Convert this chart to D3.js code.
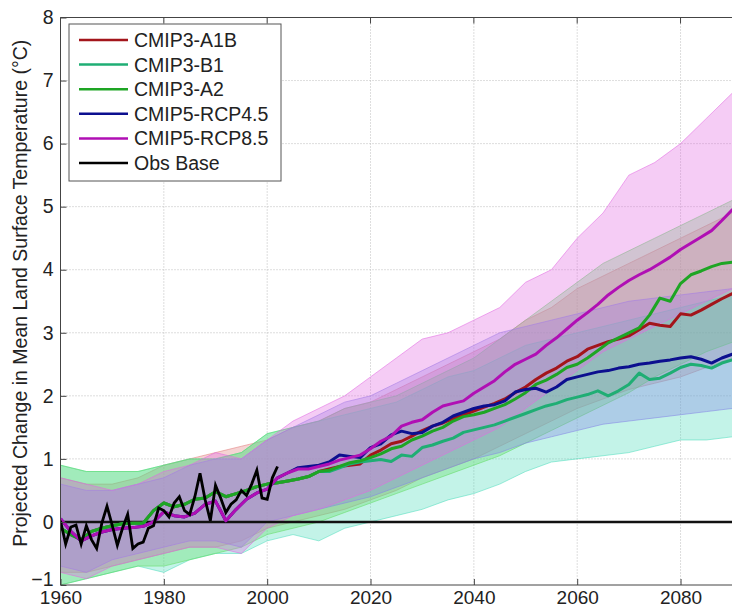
<!DOCTYPE html>
<html>
<head>
<meta charset="utf-8">
<script src="https://cdn.jsdelivr.net/npm/d3@7"></script>
<style>
  body { margin: 0; background: #fff; }
  svg { display: block; overflow: hidden; }
  text { font-family: "Liberation Sans", Arial, sans-serif; fill: #222; }
</style>
</head>
<body>
<svg id="chart" width="732" height="613"></svg>
<script>
// years for the model means (every 2 years)
const years = [1960,1962,1964,1966,1968,1970,1972,1974,1976,1978,1980,1982,1984,1986,1988,1990,1992,1994,1996,1998,
  2000,2002,2004,2006,2008,2010,2012,2014,2016,2018,2020,2022,2024,2026,2028,2030,2032,2034,2036,2038,
  2040,2042,2044,2046,2048,2050,2052,2054,2056,2058,2060,2062,2064,2066,2068,2070,2072,2074,2076,2078,
  2080,2082,2084,2086,2088,2090,2092];

// CMIP3 20th century part (1960-2010), shared by the three SRES runs
const cmip3Hist = [-0.1,-0.2,-0.28,-0.15,-0.1,-0.06,-0.03,-0.02,-0.02,0.18,0.3,0.24,0.28,0.36,0.38,0.48,0.4,0.45,0.5,0.56,
  0.6,0.62,0.65,0.68,0.72,0.8];
const a1bFuture = [0.84,0.88,0.9,0.92,1.06,1.14,1.24,1.28,1.36,1.45, 1.52,1.57,1.64,1.7,1.76, 1.82,1.88,1.95,2.05,2.14,
  2.26,2.36,2.44,2.55,2.62, 2.74,2.8,2.86,2.9,2.95, 3.05,3.15,3.12,3.1,3.3, 3.28,3.36,3.45,3.54,3.62, 3.66];
const b1Future = [0.8,0.86,0.92,0.95,0.97,0.99,0.96,1.06,1.04,1.18, 1.22,1.28,1.33,1.42,1.46, 1.5,1.54,1.6,1.66,1.72,
  1.78,1.84,1.88,1.94,1.98, 2.02,2.08,2.0,2.08,2.18, 2.36,2.26,2.28,2.36,2.45, 2.5,2.48,2.44,2.52,2.57, 2.6];
const a2Future = [0.82,0.88,0.94,0.97,1.02,1.08,1.16,1.2,1.3,1.36, 1.44,1.5,1.6,1.67,1.7, 1.74,1.8,1.86,1.95,2.05,
  2.18,2.25,2.34,2.45,2.5, 2.6,2.72,2.84,2.92,3.0, 3.08,3.28,3.55,3.5,3.78, 3.92,3.98,4.05,4.1,4.12, 4.14];

// CMIP5 historical part (1960-2004), then RCPs (2006-2092)
const cmip5Hist = [0.05,-0.15,-0.3,-0.22,-0.16,-0.12,-0.1,-0.09,-0.07,0.0, 0.16,0.1,0.08,0.14,0.28,0.33,0.02,0.2,0.36,0.46,
  0.52,0.7,0.78];
const rcp45Future = [0.86,0.88,0.9,0.95,1.06,1.04,1.02,1.18, 1.24,1.38,1.44,1.4,1.42, 1.52,1.58,1.68,1.74,1.8,
  1.84,1.86,1.92,2.06,2.1, 2.12,2.06,2.14,2.26,2.3, 2.34,2.38,2.4,2.44,2.46, 2.5,2.52,2.55,2.57,2.6,
  2.62,2.58,2.52,2.6,2.66, 2.68];
const rcp85Future = [0.84,0.84,0.88,0.92,0.98,1.02,1.06,1.16, 1.28,1.36,1.52,1.58,1.62, 1.74,1.84,1.88,1.92,2.04,
  2.14,2.24,2.38,2.5,2.58, 2.66,2.8,2.92,3.06,3.2, 3.32,3.45,3.6,3.72,3.83, 3.92,4.0,4.1,4.2,4.32,
  4.42,4.52,4.62,4.78,4.95, 5.05];

// observed annual anomalies 1960-2002
const obsYears = [1960,1961,1962,1963,1964,1965,1966,1967,1968,1969,1970,1971,1972,1973,1974,1975,1976,1977,1978,1979,
  1980,1981,1982,1983,1984,1985,1986,1987,1988,1989,1990,1991,1992,1993,1994,1995,1996,1997,1998,1999,2000,2001,2002];
const obsValues = [0.02,-0.35,-0.08,-0.05,-0.35,-0.06,-0.28,-0.42,-0.02,0.25, -0.05,-0.37,-0.1,0.12,-0.42,-0.35,-0.32,-0.1,-0.06,0.22,
  0.18,0.08,0.3,0.4,0.18,0.12,0.4,0.77,0.35,0.02, 0.58,0.38,0.15,0.28,0.35,0.5,0.42,0.6,0.82,0.38, 0.36,0.7,0.88];

// ensemble spread (lowest / highest member), every 5 years
const bandYears = [1960,1965,1970,1975,1980,1985,1990,1995,2000,2005,2010,2015,2020,2025,2030,2035,2040,2045,2050,2055,
  2060,2065,2070,2075,2080,2085,2090,2095];
const a1bLow = [-0.8,-0.8,-0.7,-0.6,-0.5,-0.4,-0.4,-0.3,-0.1,0.0,0.1,0.2,0.35,0.5,0.7,0.85,1.0,1.2,1.4,1.6,1.8,1.95,2.1,2.2,2.3,2.45,2.6,2.7];
const a1bHigh = [0.7,0.6,0.6,0.7,0.9,1.0,1.1,1.2,1.3,1.5,1.6,1.8,1.9,2.1,2.3,2.5,2.7,2.9,3.2,3.4,3.7,3.9,4.1,4.3,4.5,4.7,4.9,5.0];
const b1Low = [-1.0,-0.9,-0.8,-0.7,-0.8,-0.6,-0.5,-0.5,-0.3,-0.2,-0.3,-0.1,0.0,0.1,0.2,0.35,0.45,0.6,0.8,0.95,1.0,1.05,1.1,1.2,1.3,1.3,1.35,1.4];
const b1High = [0.9,0.8,0.8,0.8,0.9,1.0,1.0,1.1,1.4,1.5,1.6,1.7,1.8,1.9,2.1,2.3,2.4,2.6,2.8,2.9,3.0,3.1,3.2,3.3,3.4,3.5,3.6,3.6];
const a2Low = [-1.0,-0.9,-0.8,-0.7,-0.7,-0.6,-0.5,-0.4,-0.2,-0.1,0.0,0.15,0.3,0.45,0.6,0.75,0.9,1.05,1.25,1.45,1.65,1.85,2.05,2.3,2.5,2.7,2.85,3.0];
const a2High = [0.9,0.8,0.8,0.8,0.9,1.0,1.0,1.1,1.4,1.5,1.6,1.8,1.9,2.0,2.2,2.4,2.6,2.9,3.2,3.5,3.8,4.1,4.3,4.5,4.7,4.9,5.1,5.2];
const rcp45Low = [-0.7,-0.8,-0.6,-0.5,-0.4,-0.3,-0.3,-0.4,0.0,0.1,0.2,0.3,0.4,0.55,0.7,0.85,1.0,1.1,1.25,1.35,1.45,1.55,1.6,1.65,1.7,1.75,1.8,1.8];
const rcp45High = [0.6,0.5,0.5,0.6,0.7,0.9,1.0,1.0,1.3,1.5,1.7,1.9,2.0,2.2,2.4,2.6,2.8,3.0,3.1,3.2,3.3,3.4,3.5,3.55,3.6,3.65,3.7,3.7];
const rcp85Low = [-0.8,-0.9,-0.7,-0.6,-0.5,-0.4,-0.4,-0.5,-0.1,0.1,0.2,0.35,0.5,0.7,0.9,1.1,1.3,1.5,1.8,2.1,2.4,2.7,2.9,3.1,3.3,3.5,3.7,3.8];
const rcp85High = [0.7,0.6,0.5,0.6,0.8,0.9,1.1,1.0,1.3,1.6,1.8,2.0,2.3,2.6,2.9,3.0,3.2,3.4,3.8,4.0,4.5,4.9,5.5,5.7,6.0,6.4,6.8,6.9];

const xTicks = [1960,1980,2000,2020,2040,2060,2080];
const yTicks = [-1,0,1,2,3,4,5,6,7,8];

const series = [
  {name: 'CMIP3-A1B',   color: '#a3151b', values: cmip3Hist.concat(a1bFuture), low: a1bLow, high: a1bHigh, fill: '#e27f7f'},
  {name: 'CMIP3-B1',    color: '#1fae74', values: cmip3Hist.concat(b1Future), low: b1Low, high: b1High, fill: '#4fdcbc'},
  {name: 'CMIP3-A2',    color: '#1ea524', values: cmip3Hist.concat(a2Future), low: a2Low, high: a2High, fill: '#62dc64'},
  {name: 'CMIP5-RCP4.5', color: '#0c0f8f', values: cmip5Hist.concat(rcp45Future), low: rcp45Low, high: rcp45High, fill: '#8585e6'},
  {name: 'CMIP5-RCP8.5', color: '#b00fb4', values: cmip5Hist.concat(rcp85Future), low: rcp85Low, high: rcp85High, fill: '#e26ae2'}
];

const svg = d3.select('#chart');
const plotLeft = 60.5, plotTop = 17.5, plotBottom = 585;

const x = d3.scaleLinear().domain([1960, 2100]).range([plotLeft, plotLeft + 140 * 5.167]);
const y = d3.scaleLinear().domain([-1, 8]).range([plotBottom, plotTop]);
const plotRight = x(2100);

svg.append('defs').append('clipPath').attr('id', 'plotClip')
  .append('rect').attr('x', plotLeft).attr('y', plotTop).attr('width', plotRight - plotLeft).attr('height', plotBottom - plotTop);

// grid
const grid = svg.append('g');
grid.selectAll('.vg').data(xTicks.slice(1)).enter().append('line')
  .attr('x1', d => x(d)).attr('x2', d => x(d)).attr('y1', plotTop).attr('y2', plotBottom)
  .attr('stroke', '#bbb').attr('stroke-width', 1).attr('stroke-dasharray', '1,2');
grid.selectAll('.hg').data(yTicks.slice(1, -1)).enter().append('line')
  .attr('x1', plotLeft).attr('x2', plotRight).attr('y1', d => y(d)).attr('y2', d => y(d))
  .attr('stroke', '#bbb').attr('stroke-width', 1).attr('stroke-dasharray', '1,2');

const plot = svg.append('g').attr('clip-path', 'url(#plotClip)');

// ensemble spread
const area = d3.area().x((d, i) => x(bandYears[i])).y0(d => y(d[0])).y1(d => y(d[1]));
const edge = d3.line().x((d, i) => x(bandYears[i])).y(d => y(d));
series.forEach(s => {
  const pts = s.low.map((v, i) => [v, s.high[i]]);
  plot.append('path').attr('d', area(pts)).attr('fill', s.fill).attr('fill-opacity', 0.34);
  [s.low, s.high].forEach(arr => {
    plot.append('path').attr('d', edge(arr)).attr('fill', 'none')
      .attr('stroke', s.fill).attr('stroke-width', 0.8).attr('stroke-opacity', 0.7);
  });
});

// zero line
plot.append('line').attr('x1', plotLeft).attr('x2', plotRight).attr('y1', y(0)).attr('y2', y(0))
  .attr('stroke', '#111').attr('stroke-width', 2.5);

// ensemble means
const line = d3.line().x((d, i) => x(years[i])).y(d => y(d));
series.forEach(s => {
  plot.append('path').attr('d', line(s.values)).attr('fill', 'none')
    .attr('stroke', s.color).attr('stroke-width', 3).attr('stroke-linejoin', 'round');
});

// observations
const obsLine = d3.line().x((d, i) => x(obsYears[i])).y(d => y(d));
plot.append('path').attr('d', obsLine(obsValues)).attr('fill', 'none')
  .attr('stroke', '#000').attr('stroke-width', 2.8).attr('stroke-linejoin', 'miter');

// axes box (top, bottom and left visible)
svg.append('line').attr('x1', plotLeft).attr('x2', plotRight).attr('y1', plotTop).attr('y2', plotTop).attr('stroke', '#444');
svg.append('line').attr('x1', plotLeft).attr('x2', plotRight).attr('y1', plotBottom).attr('y2', plotBottom).attr('stroke', '#444');
svg.append('line').attr('x1', plotLeft).attr('x2', plotLeft).attr('y1', plotTop).attr('y2', plotBottom).attr('stroke', '#444');

const xAxis = d3.axisBottom(x).tickValues(xTicks).tickFormat(d3.format('d')).tickSizeInner(-6).tickSizeOuter(0).tickPadding(6);
const gx = svg.append('g').attr('transform', `translate(0,${plotBottom})`).call(xAxis);
gx.select('.domain').remove();
gx.selectAll('line').attr('stroke', '#444');
gx.selectAll('text').style('font-size', '19px').attr('fill', '#222');

const yAxis = d3.axisLeft(y).tickValues(yTicks).tickSizeInner(-6).tickSizeOuter(0).tickPadding(7);
const gy = svg.append('g').attr('transform', `translate(${plotLeft},0)`).call(yAxis);
gy.select('.domain').remove();
gy.selectAll('line').attr('stroke', '#444');
gy.selectAll('text').style('font-size', '19.5px').attr('fill', '#222')
  .attr('dy', d => d === -1 ? '0.05em' : '0.32em');

// top ticks
svg.selectAll('.tt').data(xTicks).enter().append('line')
  .attr('x1', d => x(d)).attr('x2', d => x(d)).attr('y1', plotTop).attr('y2', plotTop + 6).attr('stroke', '#444');

svg.append('text')
  .attr('transform', `translate(27,${(plotTop + plotBottom) / 2 - 8}) rotate(-90)`)
  .attr('text-anchor', 'middle')
  .style('font-size', '19.5px')
  .text('Projected Change in Mean Land Surface Temperature (°C)');

// legend
const legendItems = series.map(s => ({name: s.name, color: s.color})).concat([{name: 'Obs Base', color: '#000'}]);
const lg = svg.append('g');
lg.append('rect').attr('x', 69).attr('y', 24).attr('width', 212).attr('height', 157)
  .attr('fill', '#fff').attr('stroke', '#555').attr('stroke-width', 1);
const rows = lg.selectAll('.row').data(legendItems).enter().append('g')
  .attr('transform', (d, i) => `translate(0,${40 + i * 24.6})`);
rows.append('line').attr('x1', 79).attr('x2', 128).attr('y1', 0).attr('y2', 0)
  .attr('stroke', d => d.color).attr('stroke-width', 2.5);
rows.append('text').attr('x', 134).attr('y', 7).style('font-size', '19.5px').text(d => d.name);
</script>
</body>
</html>
